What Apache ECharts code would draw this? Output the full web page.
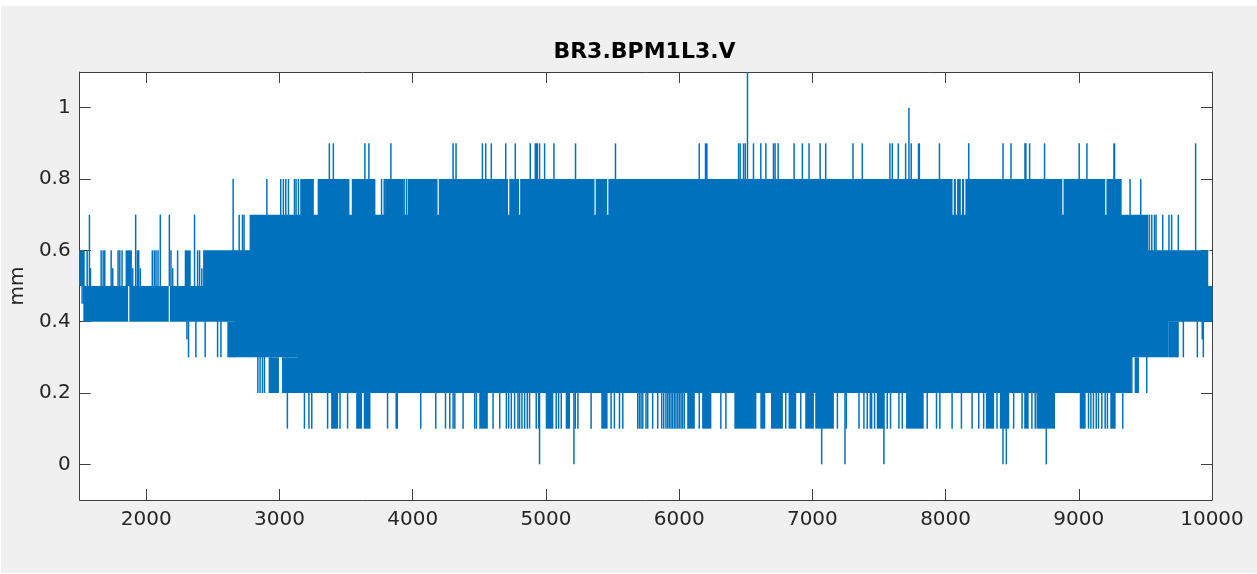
<!DOCTYPE html>
<html>
<head>
<meta charset="utf-8">
<title>BR3.BPM1L3.V</title>
<script src="https://cdn.jsdelivr.net/npm/echarts@6/dist/echarts.min.js"></script>
<style>
  html, body { margin: 0; padding: 0; background: #fff; }
  #bg { position: absolute; left: 1px; top: 6px; width: 1256px; height: 567px; background: #f0f0f0; }
  #chart { position: absolute; left: 0; top: 0; width: 1257px; height: 574px; }
</style>
</head>
<body>
<div id="bg"></div>
<div id="chart"></div>
<script>
// tick labels
var xTicks = [2000, 3000, 4000, 5000, 6000, 7000, 8000, 9000, 10000];
var yTicks = [0, 0.2, 0.4, 0.6, 0.8, 1];
var yTickLabels = ['0', '0.2', '0.4', '0.6', '0.8', '1'];

// main envelope of the signal: [start, end, low, high]
var band = [
    [1500, 1531, 0.5, 0.6],
    [1531, 2430, 0.4, 0.5],
    [2430, 2662, 0.4, 0.6],
    [2662, 2779, 0.3, 0.6],
    [2779, 3142, 0.3, 0.7],
    [3142, 3159, 0.2, 0.7],
    [3159, 3254, 0.2, 0.8],
    [3254, 3299, 0.2, 0.7],
    [3299, 3521, 0.2, 0.8],
    [3521, 3546, 0.2, 0.7],
    [3546, 3716, 0.2, 0.8],
    [3716, 3796, 0.2, 0.7],
    [3796, 3929, 0.2, 0.8],
    [3929, 3966, 0.2, 0.7],
    [3966, 9318, 0.2, 0.8],
    [9318, 9390, 0.2, 0.7],
    [9390, 9518, 0.3, 0.7],
    [9518, 9672, 0.3, 0.6],
    [9672, 9972, 0.4, 0.6],
    [9972, 10000, 0.4, 0.5]
];

// short dense bursts outside the envelope: [start, end, low, high]
var bursts = [
    [1848, 1888, 0.5, 0.6], [2292, 2330, 0.5, 0.6], [2612, 2662, 0.3, 0.4],
    [2922, 2992, 0.2, 0.3], [3022, 3137, 0.2, 0.3],
    [3391, 3436, 0.1, 0.2], [3579, 3616, 0.1, 0.2], [3636, 3679, 0.1, 0.2], [3874, 3886, 0.1, 0.2],
    [4503, 4560, 0.1, 0.2], [5002, 5052, 0.1, 0.2], [5152, 5177, 0.1, 0.2], [5419, 5459, 0.1, 0.2],
    [6064, 6114, 0.1, 0.2], [6176, 6238, 0.1, 0.2], [6418, 6576, 0.1, 0.2], [6613, 6643, 0.1, 0.2],
    [6693, 6775, 0.1, 0.2], [6825, 6875, 0.1, 0.2], [6950, 7008, 0.1, 0.2], [7025, 7158, 0.1, 0.2],
    [7487, 7537, 0.1, 0.2], [7707, 7832, 0.1, 0.2], [8306, 8361, 0.1, 0.2], [8411, 8474, 0.1, 0.2],
    [8594, 8620, 0.1, 0.2], [8686, 8818, 0.1, 0.2], [9011, 9048, 0.1, 0.2], [9240, 9273, 0.1, 0.2],
    [9423, 9448, 0.2, 0.3], [9680, 9747, 0.3, 0.4],
    [6196, 6210, 0.8, 0.9], [7795, 7805, 0.8, 0.9], [9262, 9270, 0.8, 0.9]
];

// single samples above the envelope: [x, peak]
var upSpikes = [
    [1518, 0.6], [1531, 0.6], [1556, 0.6], [1573, 0.7], [1581, 0.55], [1661, 0.6], [1676, 0.6],
    [1688, 0.6], [1736, 0.6], [1748, 0.55], [1788, 0.6], [1801, 0.6], [1818, 0.6], [1898, 0.55],
    [1920, 0.7], [1933, 0.6], [1943, 0.6], [1955, 0.55], [2045, 0.6], [2060, 0.6], [2073, 0.6],
    [2088, 0.6], [2105, 0.7], [2173, 0.7], [2185, 0.6], [2198, 0.55], [2235, 0.6], [2362, 0.7],
    [2385, 0.6], [2400, 0.6], [2417, 0.55],
    [2652, 0.8], [2697, 0.7], [2722, 0.7], [2734, 0.7], [2905, 0.8], [3009, 0.8], [3029, 0.8],
    [3047, 0.8], [3067, 0.8], [3112, 0.8], [3124, 0.8], [3142, 0.8], [3292, 0.8], [3766, 0.8],
    [3786, 0.8], [3936, 0.8], [3953, 0.8],
    [3374, 0.9], [3404, 0.9], [3641, 0.9], [3671, 0.9], [3836, 0.9], [4303, 0.9], [4325, 0.9],
    [4523, 0.9], [4548, 0.9], [4590, 0.9], [4698, 0.9], [4770, 0.9], [4882, 0.9], [4920, 0.9],
    [4928, 0.9], [4935, 0.9], [4952, 0.9], [4990, 0.9], [5060, 0.9], [5222, 0.9], [5522, 0.9],
    [6151, 0.9], [6446, 0.9], [6458, 0.9], [6483, 0.9], [6496, 0.9], [6513, 1.1], [6558, 0.9],
    [6613, 0.9], [6651, 0.9], [6708, 0.9], [6720, 0.9], [6743, 0.9], [6863, 0.9], [6925, 0.9],
    [6975, 0.9], [7058, 0.9], [7100, 0.9],
    [7305, 0.9], [7375, 0.9], [7582, 0.9], [7600, 0.9], [7645, 0.9], [7700, 0.9], [7725, 1.0],
    [7742, 0.9], [7954, 0.9], [8174, 0.9], [8431, 0.9], [8491, 0.9], [8596, 0.9], [8603, 0.9],
    [8631, 0.9], [8743, 0.9], [9003, 0.9], [9061, 0.9],
    [9385, 0.8], [9465, 0.8],
    [9530, 0.7], [9548, 0.7], [9568, 0.7], [9580, 0.7], [9630, 0.7], [9677, 0.7], [9697, 0.7],
    [9747, 0.7], [9877, 0.9]
];

// single samples below the envelope: [x, trough]
var downSpikes = [
    [2305, 0.35], [2317, 0.3], [2372, 0.3], [2442, 0.3], [2535, 0.3], [2560, 0.3],
    [2837, 0.2], [2854, 0.2], [2872, 0.2], [2887, 0.2], [2937, 0.2],
    [3059, 0.1], [3187, 0.1], [3221, 0.1], [3242, 0.1], [3361, 0.1], [3454, 0.1], [3511, 0.1],
    [3811, 0.1], [4060, 0.1], [4173, 0.1], [4246, 0.1], [4278, 0.1], [4303, 0.1], [4316, 0.1],
    [4378, 0.1], [4465, 0.1], [4478, 0.1], [4603, 0.1], [4653, 0.1], [4703, 0.1], [4720, 0.1],
    [4740, 0.1], [4765, 0.1], [4790, 0.1], [4802, 0.1], [4820, 0.1], [4840, 0.1], [4860, 0.1],
    [4877, 0.1], [4927, 0.1], [4945, 0.1], [4952, 0], [5077, 0.1], [5095, 0.1], [5115, 0.1],
    [5210, 0], [5220, 0.1], [5240, 0.1], [5339, 0.1], [5489, 0.1], [5514, 0.1], [5552, 0.1],
    [5577, 0.1], [5689, 0.1], [5702, 0.1], [5714, 0.1], [5727, 0.1], [5751, 0.1], [5764, 0.1],
    [5801, 0.1], [5839, 0.1],
    [5869, 0.1], [5884, 0.1], [5901, 0.1], [5914, 0.1], [5926, 0.1], [5939, 0.1], [5951, 0.1],
    [5964, 0.1], [5976, 0.1], [5989, 0.1], [6001, 0.1], [6014, 0.1], [6026, 0.1], [6039, 0.1],
    [6151, 0.1], [6313, 0.1], [6351, 0.1], [6800, 0.1], [6913, 0.1], [7070, 0], [7188, 0.1],
    [7245, 0], [7255, 0.1], [7350, 0.1], [7387, 0.1], [7412, 0.1], [7435, 0.1], [7445, 0.1],
    [7467, 0.1], [7537, 0], [7562, 0.1], [7587, 0.1], [7650, 0.1], [7675, 0.1], [7862, 0.1],
    [7932, 0.1], [7957, 0.1], [8049, 0.1], [8119, 0.1], [8199, 0.1], [8249, 0.1], [8286, 0.1],
    [8386, 0.1], [8431, 0], [8456, 0], [8511, 0.1], [8574, 0.1], [8648, 0.1], [8673, 0.1],
    [8756, 0], [9073, 0.1], [9091, 0.1], [9110, 0.1], [9131, 0.1], [9148, 0.1], [9173, 0.1],
    [9198, 0.1], [9215, 0.1], [9330, 0.1],
    [9398, 0.2], [9510, 0.2],
    [9785, 0.3], [9890, 0.3], [9927, 0.35], [9935, 0.3]
];

// places where the envelope is briefly not reached: [x, low, high]
var gaps = [
    [1868, 0.4, 0.5], [2173, 0.4, 0.5], [4191, 0.7, 0.8], [4720, 0.7, 0.8], [4802, 0.7, 0.8],
    [5369, 0.7, 0.8], [5464, 0.7, 0.8], [8057, 0.7, 0.8], [8082, 0.7, 0.8], [8119, 0.7, 0.8],
    [8144, 0.7, 0.8], [8881, 0.7, 0.8], [9203, 0.7, 0.8], [9977, 0.5, 0.6]
];

var base = 0.45;   // spikes start from the middle of the envelope
var lineColor = '#0072BD';
var axisColor = '#404040';
var textColor = '#262626';
var font = 'DejaVu Sans';

var chart = echarts.init(document.getElementById('chart'));

// half a pixel of overlap on each side so neighbouring blocks leave no seam
function renderBlock(params, api) {
    var p0 = api.coord([api.value(0), api.value(3)]);
    var p1 = api.coord([api.value(1), api.value(2)]);
    return {
        type: 'rect',
        shape: { x: p0[0] - 0.5, y: p0[1], width: Math.max(p1[0] - p0[0], 0) + 1, height: p1[1] - p0[1] },
        style: { fill: lineColor }
    };
}

function strokeRenderer(color, width) {
    return function (params, api) {
        var a = api.coord([api.value(0), api.value(1)]);
        var b = api.coord([api.value(0), api.value(2)]);
        return {
            type: 'line',
            shape: { x1: a[0], y1: a[1], x2: b[0], y2: b[1] },
            style: { stroke: color, lineWidth: width }
        };
    };
}

var strokes = [];
upSpikes.forEach(function (s) { strokes.push([s[0], base, s[1]]); });
downSpikes.forEach(function (s) { strokes.push([s[0], base, s[1]]); });

function xAxisCfg(pos, labels) {
    return {
        type: 'value', position: pos, min: 1500, max: 10000,
        axisLine: { show: true, onZero: false, lineStyle: { color: axisColor, width: 1 } },
        axisTick: { show: true, inside: true, length: 11, customValues: xTicks, lineStyle: { color: axisColor } },
        axisLabel: {
            show: labels, customValues: xTicks, margin: 10, color: textColor, fontSize: 20, fontFamily: font,
            formatter: function (v) { return String(v); }
        },
        splitLine: { show: false }
    };
}

function yAxisCfg(pos, labels) {
    var cfg = {
        type: 'value', position: pos, min: -0.1, max: 1.1,
        axisLine: { show: true, onZero: false, lineStyle: { color: axisColor, width: 1 } },
        axisTick: { show: true, inside: true, length: 11, customValues: yTicks, lineStyle: { color: axisColor } },
        axisLabel: {
            show: labels, customValues: yTicks, margin: 9, color: textColor, fontSize: 20, fontFamily: font,
            formatter: function (v) {
                var i = yTicks.indexOf(Math.round(v * 10) / 10);
                return i >= 0 ? yTickLabels[i] : '';
            }
        },
        splitLine: { show: false }
    };
    if (labels) {
        cfg.name = 'mm';
        cfg.nameLocation = 'middle';
        cfg.nameGap = 50;
        cfg.nameTextStyle = { color: textColor, fontSize: 20, fontFamily: font };
    }
    return cfg;
}

var option = {
    animation: false,
    backgroundColor: 'transparent',
    grid: { left: 77, top: 72, width: 1135, height: 428, show: true, backgroundColor: '#fff', borderWidth: 0 },
    graphic: [{
        type: 'text', x: 644.5, y: 52,
        style: { text: 'BR3.BPM1L3.V', font: 'bold 22px "DejaVu Sans"', fill: '#000', textAlign: 'center', textVerticalAlign: 'middle' }
    }],
    xAxis: [xAxisCfg('bottom', true), xAxisCfg('top', false)],
    yAxis: [yAxisCfg('left', true), yAxisCfg('right', false)],
    series: [
        { type: 'custom', clip: true, renderItem: renderBlock, data: band, encode: { x: [0, 1], y: [2, 3] } },
        { type: 'custom', clip: true, renderItem: renderBlock, data: bursts, encode: { x: [0, 1], y: [2, 3] } },
        { type: 'custom', clip: true, renderItem: strokeRenderer(lineColor, 1.5), data: strokes, encode: { x: 0, y: [1, 2] } },
        { type: 'custom', clip: true, renderItem: strokeRenderer('#ffffff', 1.2), data: gaps, encode: { x: 0, y: [1, 2] } }
    ]
};

chart.setOption(option);
</script>
</body>
</html>
